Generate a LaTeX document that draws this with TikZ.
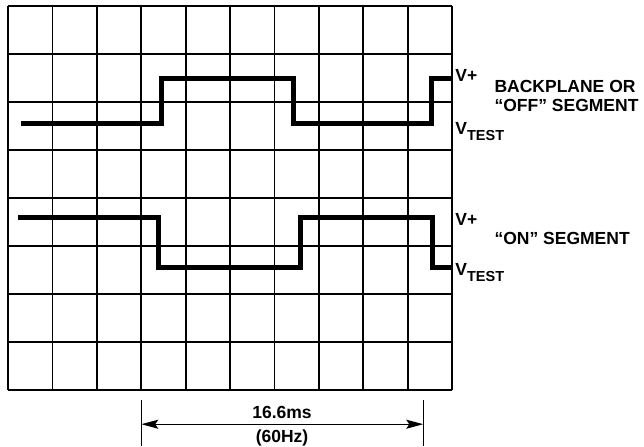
\documentclass[tikz,border=0pt]{standalone}
\usepackage{fontspec}
\setmainfont{Liberation Sans}
\usetikzlibrary{arrows.meta}
\tikzset{
  wave/.style={line width=5pt, line join=miter},
  lbl/.style={anchor=west, inner sep=0pt, font=\fontsize{17.5}{19}\selectfont\bfseries},
  dim/.style={line width=1.4pt}
}
\newcommand{\vtest}{V\raisebox{-0.35em}{\fontsize{14.5}{16}\selectfont TEST}}
\begin{document}
\begin{tikzpicture}[x=44.4pt,y=48pt]
  \useasboundingbox (-0.18,-1.167) rectangle (14.32,8.125);
  \foreach \i in {0,...,10} \draw[line width=1.7pt] (\i,0) -- (\i,8);
  \foreach \j in {0,...,8} \draw[line width=1.7pt] (0,\j) -- (10,\j);

% backplane / off segment
  \draw[wave] (0.29,5.55) -- (3.45,5.55) -- (3.45,6.5) -- (6.42,6.5) -- (6.42,5.55)
     -- (9.53,5.55) -- (9.53,6.5) -- (10,6.5);
% on segment
  \draw[wave] (0.22,3.6) -- (3.38,3.6) -- (3.38,2.55) -- (6.58,2.55) -- (6.58,3.6)
     -- (9.55,3.6) -- (9.55,2.55) -- (10,2.55);

  \node[lbl] (vpA) at (10.07,6.55) {V+};
  \node[lbl] (bpA) at (10.95,6.33) {BACKPLANE OR};
  \node[lbl] (bpB) at (10.95,5.93) {“OFF” SEGMENT};
  \node[lbl] (vtA) at (10.07,5.38) {\vtest};
  \node[lbl] (vpB) at (10.07,3.55) {V+};
  \node[lbl] (onA) at (10.95,3.15) {“ON” SEGMENT};
  \node[lbl] (vtB) at (10.07,2.44) {\vtest};

  \coordinate (tL) at (3.0,-0.21);
  \coordinate (tR) at (9.35,-0.21);
  \draw[dim] (tL) -- ++(0,-0.96);
  \draw[dim] (tR) -- ++(0,-0.96);
  \coordinate (aL) at (3.0,-0.71);
  \coordinate (aR) at (9.35,-0.71);
  \draw[dim, {Stealth[length=17pt,width=9pt,inset=3pt]}-{Stealth[length=17pt,width=9pt,inset=3pt]}] (aL) -- (aR);
  \node[lbl, anchor=center] (per) at (6.17,-0.46) {16.6ms};
  \node[lbl, anchor=center] (frq) at (6.17,-0.99) {(60Hz)};
\end{tikzpicture}
\end{document}
